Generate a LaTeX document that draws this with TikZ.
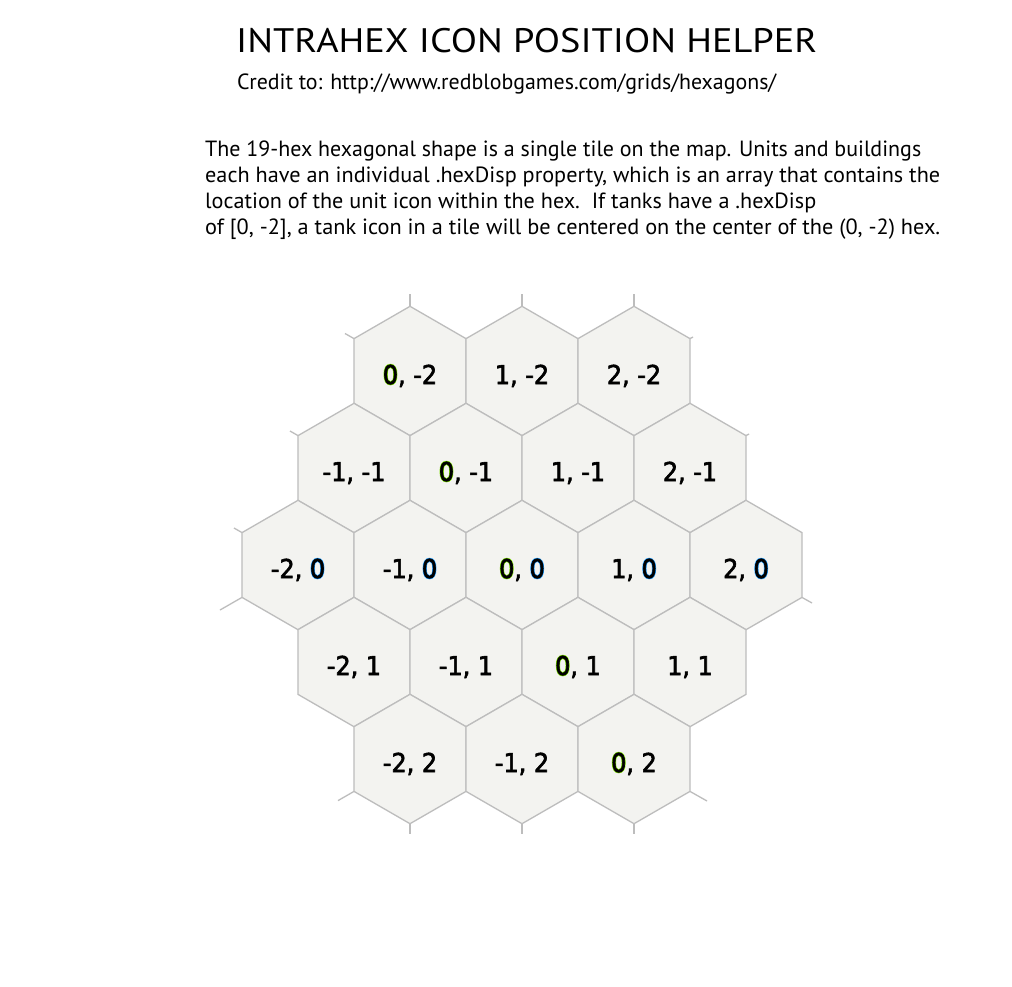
\documentclass[tikz,border=0pt]{standalone}
\usepackage{fontspec}
\usepackage{graphicx}
\setmainfont{PT Sans}
\newfontfamily\labfont[FakeStretch=0.92]{DejaVu Sans}
\definecolor{hexfill}{HTML}{F3F3F0}
\definecolor{hexline}{HTML}{BDBDBD}
\newcommand\fitw[2]{\resizebox{#1}{\height}{#2}}
% thickened black text (fill + thin black stroke)
\newcommand\thk[1]{\special{pdf:literal direct 2 Tr 0.6 w 0 0 0 RG}#1\special{pdf:literal direct 0 Tr}}
% zero with coloured outline: stroke-only coloured copy under the black glyph
\newcommand\hG[1]{\rlap{\special{pdf:literal direct 1 Tr 1.8 w 0.49 0.88 0 RG}#1}\special{pdf:literal direct 2 Tr 0.6 w 0 0 0 RG}#1}
\newcommand\hB[1]{\rlap{\special{pdf:literal direct 1 Tr 1.8 w 0.12 0.61 1 RG}#1}\special{pdf:literal direct 2 Tr 0.6 w 0 0 0 RG}#1}
\begin{document}
\begin{tikzpicture}[x=1pt,y=-1pt,
  hexcell/.style={fill=hexfill,draw=hexline,line width=1.3pt,line join=miter},
  stub/.style={draw=hexline,line width=1.3pt},
  lab/.style={font=\labfont\fontsize{26}{26}\selectfont,inner sep=0pt,anchor=base,text=black},
  txt/.style={inner sep=0pt,anchor=base west,text=black}]
\useasboundingbox[fill=white] (0,0) rectangle (1012,986);
% title and text
\node[txt] (title) at (236,52) {\fitw{581pt}{\fontsize{34}{34}\selectfont INTRAHEX ICON POSITION HELPER}};
\node[txt] (credit) at (237,89) {\fitw{539pt}{\fontsize{22}{22}\selectfont Credit to: http://www.redblobgames.com/grids/hexagons/}};
\node[txt] (l1) at (205,156) {\fitw{716pt}{\fontsize{22}{22}\selectfont The 19-hex hexagonal shape is a single tile on the map. Units and buildings}};
\node[txt] (l2) at (205,182) {\fitw{735pt}{\fontsize{22}{22}\selectfont each have an individual .hexDisp property, which is an array that contains the}};
\node[txt] (l3) at (205,208) {\fitw{611pt}{\fontsize{22}{22}\selectfont location of the unit icon within the hex.\ \ If tanks have a .hexDisp}};
\node[txt] (l4) at (205,234) {\fitw{735pt}{\fontsize{22}{22}\selectfont of [0, -2], a tank icon in a tile will be centered on the center of the (0, -2) hex.}};
% stubs
\foreach \sx/\sy/\ex/\ey in {410/306.3/410/294, 522/306.3/522/294, 634/306.3/634/294,
   354/338.6/345/333.5, 690/338.6/693/337, 298/435.6/290/431, 746/435.6/749/434,
   242/532.6/234/528, 242/597.4/220/610, 802/597.4/812/603,
   354/791.4/338/800.6, 690/791.4/707/801,
   410/823.7/410/834, 522/823.7/522/834, 634/823.7/634/834}
  \draw[stub] (\sx,\sy) -- (\ex,\ey);
% hexes
\foreach \q/\r in {0/-2,1/-2,2/-2,-1/-1,0/-1,1/-1,2/-1,-2/0,-1/0,0/0,1/0,2/0,-2/1,-1/1,0/1,1/1,-2/2,-1/2,0/2} {
  \pgfmathsetmacro\cx{522+112*(\q+\r/2)}
  \pgfmathsetmacro\cy{565+97*\r}
  \draw[hexcell] (\cx,\cy) +(90:64.7) -- +(30:64.7) -- +(-30:64.7) -- +(-90:64.7) -- +(-150:64.7) -- +(150:64.7) -- cycle;
  \node[lab] (h\q\r) at (\cx,\cy+13) {\thk{\ifnum\q=0 \hG{0}\else\q\fi, \ifnum\r=0 \hB{0}\else\r\fi}};
}
\end{tikzpicture}
\end{document}
